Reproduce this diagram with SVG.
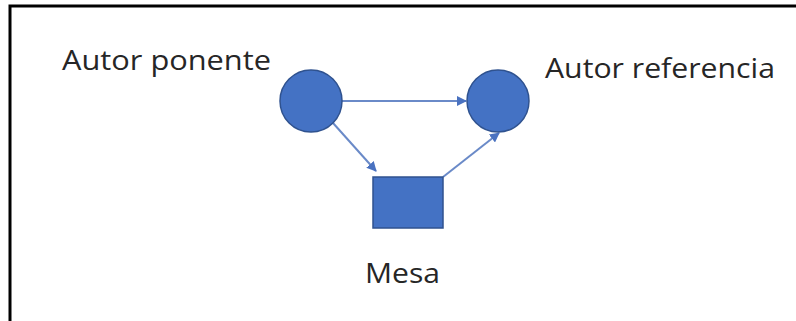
<svg xmlns="http://www.w3.org/2000/svg" width="796" height="321" viewBox="0 0 796 321">
  <defs>
    <marker id="ah" viewBox="0 0 10 10" refX="9" refY="5" markerWidth="5" markerHeight="5" orient="auto" markerUnits="strokeWidth">
      <path d="M0,0 L10,5 L0,10 Z" fill="#4a72c0"/>
    </marker>
    <style>
      .node { fill: #4472C4; stroke: #2F528F; stroke-width: 1.5; }
      .lbl { font-family: "Open Sans", "Liberation Sans", sans-serif; fill: #262626; }
      .edge { stroke: #6a8ac8; stroke-width: 2; fill: none; marker-end: url(#ah); }
    </style>
  </defs>
  <rect width="796" height="321" fill="#ffffff"/>
  <path d="M10,321 V6 H796" fill="none" stroke="#000000" stroke-width="3"/>
  <g id="connectors">
    <line class="edge" x1="342" y1="101" x2="466" y2="101"/>
    <line class="edge" x1="333" y1="123" x2="376" y2="171"/>
    <line class="edge" x1="443" y1="177" x2="499" y2="133"/>
  </g>
  <g id="autor-ponente">
    <circle class="node" cx="311" cy="101" r="31"/>
    <text class="lbl" x="62" y="70" font-size="28" textLength="209" lengthAdjust="spacingAndGlyphs">Autor ponente</text>
  </g>
  <g id="autor-referencia">
    <circle class="node" cx="498" cy="101" r="31"/>
    <text class="lbl" x="545" y="78" font-size="28" textLength="230" lengthAdjust="spacingAndGlyphs">Autor referencia</text>
  </g>
  <g id="mesa">
    <rect class="node" x="373" y="177" width="70" height="51"/>
    <text class="lbl" x="365" y="283" font-size="28" textLength="75" lengthAdjust="spacingAndGlyphs">Mesa</text>
  </g>
</svg>
